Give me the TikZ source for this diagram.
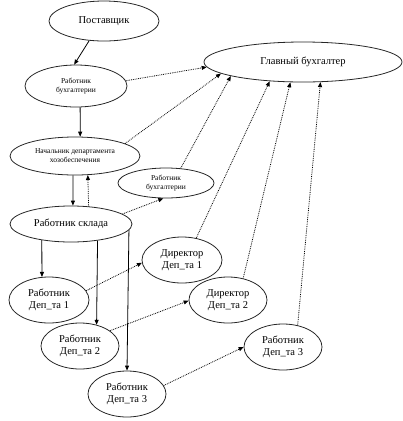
\documentclass[tikz,border=0pt]{standalone}
\usepackage{fontspec}
\setmainfont{Liberation Serif}
\usetikzlibrary{shapes.geometric,arrows.meta}
\begin{document}
\begin{tikzpicture}[x=1bp,y=-1bp,
  ell/.style={draw=black!85,line width=0.8bp,ellipse,inner sep=0pt,align=center,
    font=\fontsize{10.5bp}{12bp}\selectfont},
  sm/.style={font=\fontsize{7.5bp}{9bp}\selectfont},
  conn/.style={line width=0.8bp,-{Triangle[length=5bp,width=4bp]}},
  dconn/.style={conn,densely dotted}]
\useasboundingbox (0,0) rectangle (403,421);
\node[ell,minimum width=110bp,minimum height=40bp] (post) at (104,21) {Поставщик};
\node[ell,sm,minimum width=102bp,minimum height=42bp] (buh1) at (76,86) {Работник\\бухгалтерии};
\node[ell,minimum width=198bp,minimum height=40bp] (gl) at (303,62) {Главный бухгалтер};
\node[ell,sm,minimum width=130bp,minimum height=38bp] (nach) at (75,156) {Начальник департамента\\хозобеспечения};
\node[ell,sm,minimum width=96bp,minimum height=30bp] (buh2) at (166,183) {Работник\\бухгалтерии};
\node[ell,minimum width=122bp,minimum height=36bp] (sklad) at (71,224) {Работник склада};
\node[ell,minimum width=80bp,minimum height=46bp] (dir1) at (182,260) {Директор\\Деп\_та 1};
\node[ell,minimum width=78bp,minimum height=46bp] (dir2) at (228,300) {Директор\\Деп\_та 2};
\node[ell,minimum width=78bp,minimum height=46bp] (rab3r) at (283,347) {Работник\\Деп\_та 3};
\node[ell,minimum width=80bp,minimum height=46bp] (rab1) at (49,300) {Работник\\Деп\_та 1};
\node[ell,minimum width=78bp,minimum height=46bp] (rab2) at (80,346) {Работник\\Деп\_та 2};
\node[ell,minimum width=78bp,minimum height=46bp] (rab3) at (127,394) {Работник\\Деп\_та 3};
% solid
\draw[conn] (post.233) -- (buh1.95);
\draw[conn] (buh1.281) -- (nach.75);
\draw[conn] (nach.264) -- (sklad.84);
\draw[conn] (sklad.209) -- (rab1.107);
\draw[conn] (sklad.328) -- (rab2.52);
\draw[conn] (sklad.354) -- (rab3.90);
% dotted
\draw[dconn] (buh1.6) -- (gl.183);
\draw[dconn] (nach.14) -- (gl.188);
\draw[dconn] (sklad.45) -- (nach.304);
\draw[dconn] (sklad.11) -- (buh2.260);
\draw[dconn] (buh2.45) -- (gl.191);
\draw[dconn] (rab1.14) -- (dir1.184);
\draw[dconn] (rab2.27) -- (dir2.181);
\draw[dconn] (rab3.13) -- (rab3r.180);
\draw[dconn] (dir1.57) -- (gl.210);
\draw[dconn] (dir2.55) -- (gl.238);
\draw[dconn] (rab3r.56) -- (gl.311);
\end{tikzpicture}
\end{document}
